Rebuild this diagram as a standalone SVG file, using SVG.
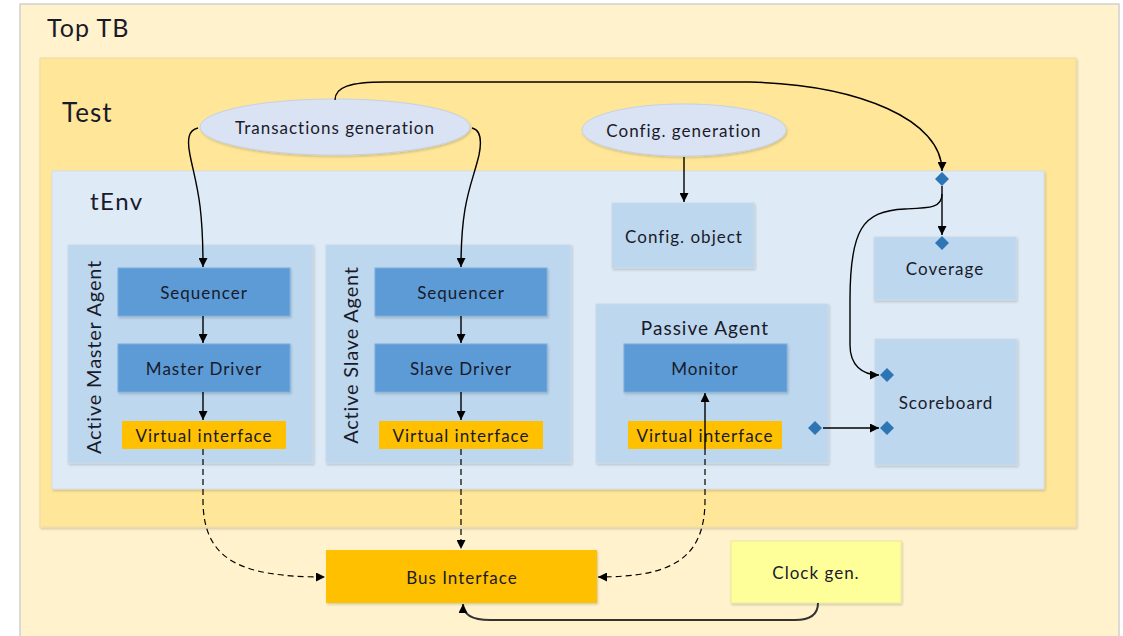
<svg xmlns="http://www.w3.org/2000/svg" width="1123" height="636" viewBox="0 0 1123 636">
<defs>
<marker id="arr" viewBox="0 0 10 10" refX="10" refY="5" markerWidth="9" markerHeight="9" markerUnits="userSpaceOnUse" orient="auto">
<path d="M0,0 L10,5 L0,10 z" fill="#000"/>
</marker>
<filter id="sh" x="-5%" y="-5%" width="110%" height="115%">
<feDropShadow dx="1" dy="1.5" stdDeviation="1" flood-color="#000" flood-opacity="0.18"/>
</filter>
</defs>
<style>
text{font-family:Lato,"Liberation Sans",sans-serif;fill:#1a1a2a;}
.lbl{font-size:17px;text-anchor:middle;dominant-baseline:central;letter-spacing:1px;}
.big{font-size:25px;letter-spacing:1px;}
.box{filter:url(#sh);}
.agent{fill:#bdd7ee;stroke:#c9d9e8;stroke-width:1;}
.dark{fill:#5b9bd5;stroke:#7aaedd;stroke-width:1;}
.vi{fill:#ffc000;}
.dia{fill:#2e75b6;}
.ca{fill:none;stroke:#000;stroke-width:1.4;marker-end:url(#arr);}
.cd{fill:none;stroke:#000;stroke-width:1.2;stroke-dasharray:6 4;marker-end:url(#arr);}
</style>
<rect width="1123" height="636" fill="#ffffff"/>
<g id="topTB">
<rect x="20" y="4" width="1099" height="640" fill="#fff2cc" stroke="#d0d0d0" stroke-width="1.5"/>
<text x="47" y="37" class="big">Top TB</text>
</g>
<g id="test">
<rect x="40" y="58" width="1036" height="469" fill="#ffe699" stroke="#eadba6" stroke-width="1" class="box"/>
<text x="62" y="122" class="big" style="font-size:26px">Test</text>
</g>
<g id="tEnv">
<rect x="52" y="171" width="992" height="318" fill="#deebf7" stroke="#d3deea" stroke-width="1" class="box"/>
<text x="90" y="210" class="big" style="font-size:24px;letter-spacing:1.5px">tEnv</text>
</g>
<g id="transGen">
<ellipse cx="335" cy="127" rx="135" ry="28" fill="#dae3f3" stroke="#c4d2e6" stroke-width="1" class="box"/>
<text x="335" y="127" class="lbl">Transactions generation</text>
</g>
<g id="configGen">
<ellipse cx="684" cy="130" rx="102" ry="26" fill="#dae3f3" stroke="#c4d2e6" stroke-width="1" class="box"/>
<text x="684" y="130" class="lbl">Config. generation</text>
</g>
<g id="configObj">
<rect x="612" y="203" width="142" height="65" class="agent box"/>
<text x="684" y="236" class="lbl">Config. object</text>
</g>
<g id="masterAgent">
<rect x="68" y="245" width="245" height="218" class="agent box"/>
<text transform="translate(93,357) rotate(-90)" class="lbl" style="font-size:20px;letter-spacing:0.8px">Active Master Agent</text>
</g>
<g id="masterSeq">
<rect x="118" y="268" width="172" height="48" class="dark box"/>
<text x="204" y="292" class="lbl">Sequencer</text>
</g>
<g id="masterDrv">
<rect x="118" y="344" width="172" height="48" class="dark box"/>
<text x="204" y="368" class="lbl">Master Driver</text>
</g>
<g id="masterVI">
<rect x="122" y="421" width="164" height="28" class="vi"/>
<text x="204" y="435" class="lbl">Virtual interface</text>
</g>
<g id="slaveAgent">
<rect x="326" y="245" width="245" height="218" class="agent box"/>
<text transform="translate(350,355) rotate(-90)" class="lbl" style="font-size:20px;letter-spacing:0.8px">Active Slave Agent</text>
</g>
<g id="slaveSeq">
<rect x="375" y="268" width="172" height="48" class="dark box"/>
<text x="461" y="292" class="lbl">Sequencer</text>
</g>
<g id="slaveDrv">
<rect x="375" y="344" width="172" height="48" class="dark box"/>
<text x="461" y="368" class="lbl">Slave Driver</text>
</g>
<g id="slaveVI">
<rect x="379" y="421" width="164" height="28" class="vi"/>
<text x="461" y="435" class="lbl">Virtual interface</text>
</g>
<g id="passiveAgent">
<rect x="596" y="304" width="232" height="159" class="agent box"/>
<text x="705" y="327" class="lbl" style="font-size:19px">Passive Agent</text>
</g>
<g id="monitor">
<rect x="624" y="344" width="163" height="48" class="dark box"/>
<text x="705" y="368" class="lbl">Monitor</text>
</g>
<g id="passiveVI">
<rect x="628" y="421" width="154" height="28" class="vi"/>
<text x="705" y="435" class="lbl">Virtual interface</text>
</g>
<g id="coverage">
<rect x="874" y="237" width="142" height="63" class="agent box"/>
<text x="945" y="268" class="lbl">Coverage</text>
</g>
<g id="scoreboard">
<rect x="875" y="339" width="142" height="126" class="agent box"/>
<text x="946" y="402" class="lbl">Scoreboard</text>
</g>
<g id="busInterface">
<rect x="326" y="550" width="271" height="53" fill="#ffc000" class="box"/>
<text x="462" y="577" class="lbl">Bus Interface</text>
</g>
<g id="clockGen">
<rect x="731" y="541" width="170" height="62" fill="#ffff99" stroke="#e8e8a0" stroke-width="1" class="box"/>
<text x="816" y="572" class="lbl">Clock gen.</text>
</g>
<g id="connectors">
<path class="ca" d="M335,100 C335,87 350,82 385,82 L750,82 C860,85 942,120 942,171"/>
<path class="ca" d="M942,186 L942,235"/>
<path class="ca" d="M942,194 C942,208 930,208 905,209 C862,211 850,230 850,300 L850,345 C850,365 862,375 879,375"/>
<path class="ca" d="M823,428 L879,428"/>
<path class="ca" d="M198,128 C188,130 187,140 190,155 C196,185 203,200 203,267"/>
<path class="ca" d="M472,128 C481,130 482,140 479,155 C472,185 461,200 461,267"/>
<path class="ca" d="M684,157 L684,202"/>
<path class="ca" d="M203,316 L203,343"/>
<path class="ca" d="M203,392 L203,420"/>
<path class="ca" d="M461,316 L461,343"/>
<path class="ca" d="M461,392 L461,420"/>
<path class="ca" d="M705,449 L705,393"/>
<path class="cd" d="M203,449 L203,500 C203,560 240,577 325,577"/>
<path class="cd" d="M461,449 L461,549"/>
<path class="cd" d="M705,449 L705,500 C705,560 670,577 598,577"/>
<path class="ca" d="M818,603 C818,614 810,620 795,620 L490,620 C472,620 463,614 463,604" style="stroke:#333;stroke-width:2"/>
</g>
<g id="diamonds">
<path class="dia" d="M942,172 L949,179 L942,186 L935,179 z"/>
<path class="dia" d="M942,236 L949,243 L942,250 L935,243 z"/>
<path class="dia" d="M887,368 L894,375 L887,382 L880,375 z"/>
<path class="dia" d="M887,421 L894,428 L887,435 L880,428 z"/>
<path class="dia" d="M815,421 L822,428 L815,435 L808,428 z"/>
</g>
</svg>
